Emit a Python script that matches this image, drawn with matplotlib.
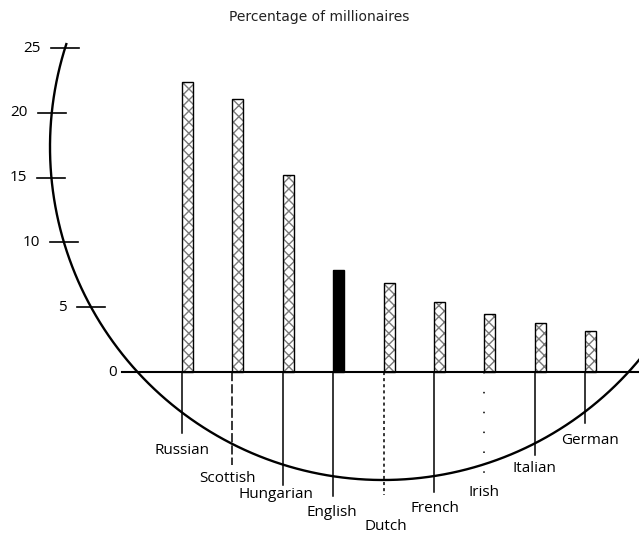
import numpy as np
import matplotlib.pyplot as plt

countries = ['Russian', 'Scottish', 'Hungarian', 'English', 'Dutch',
             'French', 'Irish', 'Italian', 'German']
percent = [22.4, 21.1, 15.2, 7.9, 6.9, 5.4, 4.5, 3.8, 3.2]
yticks = [0, 5, 10, 15, 20, 25]

# page layout, in pixels
W, H = 639, 537
X0, DX = 182, 50.4      # left edge of first bar, bar spacing
Y0, DY = 372, 12.96     # zero line, pixels per percent
CX, CY, R = 383, 147, 333   # the big circle
line_end = [433, 465, 485, 496, 495, 492, 477, 455, 423]
label_y = [450, 478, 495, 513, 527, 508, 493, 468, 440]
label_dx = [0, -5, -7, -1, 2, 1, 0, 0, 5]
line_style = ['-', (0, (6, 2)), '-', '-', (0, (2, 2)), '-', (0, (1, 12)), '-', '-']


def px_x(p):
    return (p - X0) / DX


def px_y(p):
    return (Y0 - p) / DY


def circle_left(yp):
    return CX - np.sqrt(R ** 2 - (yp - CY) ** 2)


plt.rcParams['font.family'] = ['Open Sans', 'DejaVu Sans']
fig = plt.figure(figsize=(W / 100, H / 100), dpi=100)
ax = fig.add_axes([0, 0, 1, 1])
ax.set_xlim(px_x(0), px_x(W))
ax.set_ylim(px_y(H), px_y(0))
ax.axis('off')

# arc of the circle, from the 25 tick round the bottom and off the right edge
a = np.radians(np.linspace(198, 30, 500))
ax.plot(px_x(CX + R * np.cos(a)), px_y(CY + R * np.sin(a)),
        color='black', lw=1.7, zorder=2)

x = np.arange(len(countries))
bw = 11 / DX
bars = ax.bar(x, percent, width=bw, align='edge', color='white',
              edgecolor='#7a7a7a', hatch='xxx', lw=0, zorder=3)
bars[3].set_hatch(None)
bars[3].set_facecolor('black')
ax.bar(x, percent, width=bw, align='edge', fill=False,
       edgecolor='black', lw=1.0, zorder=4)

# zero line
x_left0 = circle_left(Y0)
ax.plot([px_x(x_left0 - 16), px_x(W)], [0, 0], color='black', lw=1.5, zorder=5)
ax.text(px_x(x_left0 - 21), 0, '0', ha='right', va='center', fontsize=11)

for t in yticks[1:]:
    xc = circle_left(Y0 - t * DY)
    ax.plot([px_x(xc - 14), px_x(xc + 14)], [t, t], color='black', lw=1.2)
    ax.text(px_x(xc - 24), t, str(t), ha='right', va='center', fontsize=11)

for i, name in enumerate(countries):
    ax.plot([i, i], [0, px_y(line_end[i])], color='black', lw=1.1,
            linestyle=line_style[i], zorder=3)
    ax.text(i + label_dx[i] / DX, px_y(label_y[i]), name, ha='center',
            va='center', fontsize=11)

ax.text(px_x(319), px_y(17), 'Percentage of millionaires', ha='center',
        va='center', fontsize=10, color='#222222', family='DejaVu Sans')

fig.savefig('out.png', dpi=100)
